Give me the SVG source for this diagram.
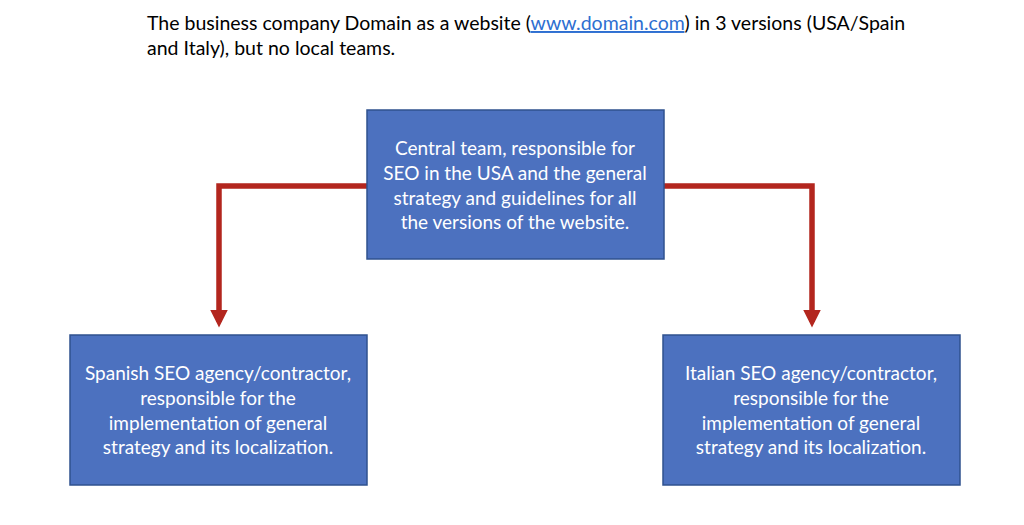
<svg xmlns="http://www.w3.org/2000/svg" width="1024" height="525" viewBox="0 0 1024 525">
<style>
.box{fill:#4C71BF;stroke:#2F528F;stroke-width:1.5}
.bt{font-family:Lato,"Open Sans",sans-serif;font-size:19px;fill:#FFFFFF;text-anchor:middle}
.hd{font-family:Lato,"Open Sans",sans-serif;font-size:19.5px;fill:#000000}
.conn{fill:none;stroke:#B3261E;stroke-width:5.5}
</style>
<defs>
<marker id="ah" markerWidth="4" markerHeight="4" refX="2.2" refY="2" orient="auto" markerUnits="strokeWidth" viewBox="0 0 4 4">
<path d="M0,0.4 L3.2,2 L0,3.6 Z" fill="#B3261E"/>
</marker>
</defs>
<rect width="1024" height="525" fill="#FFFFFF"/>
<g id="header">
<text class="hd" x="147" y="30">The business company Domain as a website (<tspan fill="#2E6FD1" text-decoration="underline">www.domain.com</tspan>) in 3 versions (USA/Spain</text>
<text class="hd" x="147" y="55">and Italy), but no local teams.</text>
</g>
<g id="connectors">
<path class="conn" d="M367,186 H219 V322" marker-end="url(#ah)"/>
<path class="conn" d="M664,186 H812 V322" marker-end="url(#ah)"/>
</g>
<g id="central">
<rect class="box" x="367" y="110" width="297" height="149"/>
<text class="bt" x="515" y="155">Central team, responsible for</text>
<text class="bt" x="515" y="180">SEO in the USA and the general</text>
<text class="bt" x="515" y="205">strategy and guidelines for all</text>
<text class="bt" x="515" y="229">the versions of the website.</text>
</g>
<g id="spanish">
<rect class="box" x="70" y="335" width="297" height="150"/>
<text class="bt" x="218" y="380">Spanish SEO agency/contractor,</text>
<text class="bt" x="218" y="405">responsible for the</text>
<text class="bt" x="218" y="430">implementation of general</text>
<text class="bt" x="218" y="454">strategy and its localization.</text>
</g>
<g id="italian">
<rect class="box" x="663" y="335" width="297" height="150"/>
<text class="bt" x="811" y="380">Italian SEO agency/contractor,</text>
<text class="bt" x="811" y="405">responsible for the</text>
<text class="bt" x="811" y="430">implementation of general</text>
<text class="bt" x="811" y="454">strategy and its localization.</text>
</g>
</svg>
